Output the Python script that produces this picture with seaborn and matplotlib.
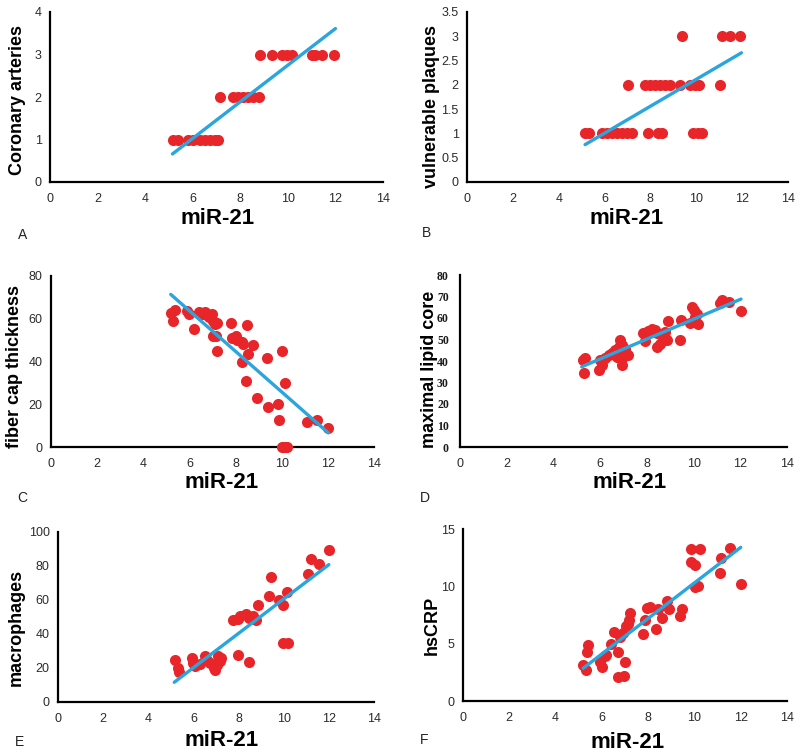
import matplotlib
matplotlib.use('Agg')
import matplotlib.pyplot as plt
import seaborn as sns

# ---- data ----
a_x = [5.19, 5.40, 5.82, 6.03, 6.31, 6.52, 6.73, 6.94, 7.08,
       7.15, 7.71, 7.92, 8.13, 8.34, 8.55, 8.77,
       8.84, 9.33, 9.75, 9.96, 10.17, 11.0, 11.15, 11.43, 11.95]
a_y = [1, 1, 1, 1, 1, 1, 1, 1, 1,
       2, 2, 2, 2, 2, 2, 2,
       3, 3, 3, 3, 3, 3, 3, 3, 3]
a_fit_x = [5.15, 12.0]
a_fit_y = [0.66, 3.61]

b_x = [5.15, 5.30, 5.88, 6.10, 6.31, 6.53, 6.75, 6.97, 7.18, 7.91, 8.35, 8.49,
       9.87, 10.09, 10.23,
       7.04, 7.76, 7.98, 8.20, 8.42, 8.64, 8.85, 9.29, 9.72, 9.94, 10.13, 11.03,
       9.36, 11.1, 11.47, 11.9]
b_y = [1, 1, 1, 1, 1, 1, 1, 1, 1, 1, 1, 1, 1, 1, 1,
       2, 2, 2, 2, 2, 2, 2, 2, 2, 2, 2, 2,
       3, 3, 3, 3]
b_fit_x = [5.15, 11.97]
b_fit_y = [0.77, 2.66]

c_x = [5.19, 5.38, 5.30, 5.88, 6.0, 6.21, 6.43, 6.53, 6.66, 6.75, 6.86, 6.96,
       7.04, 7.11, 7.21, 7.04, 7.15, 7.21, 7.8, 7.86, 8.02, 8.08, 8.27, 8.34,
       8.48, 8.55, 8.77, 8.29, 8.44, 8.92, 9.35, 9.42, 9.86, 9.9, 10.0, 10.14,
       10.0, 10.14, 10.22, 11.11, 11.55, 12.02]
c_y = [62.9, 64, 59, 63.5, 62, 55, 63, 62.4, 63, 61.6, 60.8, 62,
       59, 57.7, 58, 52, 51.8, 45, 58, 51, 52, 50, 49, 48,
       57, 43.7, 47.6, 40, 31, 23, 41.8, 18.7, 20, 12.8, 45, 30,
       0, 0, 0, 11.7, 12.8, 8.9]
c_fit_x = [5.19, 12.02]
c_fit_y = [71.4, 6.6]

d_x = [5.26, 5.36, 5.31, 5.97, 6.0, 6.07, 6.21, 6.36, 6.5, 6.64, 6.79, 6.86,
       6.93, 6.71, 6.93, 7.07, 7.21, 6.97, 7.83, 7.93, 8.07, 8.21, 8.36, 8.43,
       8.43, 8.57, 8.71, 8.79, 8.86, 8.89, 9.4, 9.47, 9.83, 9.93, 10.0, 10.07,
       10.14, 10.21, 11.14, 11.21, 11.5, 12.03]
d_y = [40.4, 41.2, 34.2, 36, 40.4, 38, 41.2, 42.7, 43.5, 45, 46.6, 49.7,
       47.4, 41.9, 38, 45.8, 42.7, 41.9, 53.1, 49.4, 54, 55, 54.3, 52.8,
       46.3, 47.8, 50.9, 53.6, 50, 58.5, 50, 59.3, 57.5, 65.2, 63.7, 60.6,
       62, 57.1, 66.8, 68.3, 67.5, 63.2]
d_fit_x = [5.21, 12.03]
d_fit_y = [37.3, 68.8]

e_x = [5.19, 5.30, 5.37, 5.93, 6.0, 6.08, 6.3, 6.52, 6.59, 6.74, 6.89, 6.96,
       7.04, 7.11, 7.18, 7.23, 7.77, 7.96, 8.07, 8.32, 8.44, 8.66, 8.88, 7.96,
       8.48, 8.78, 9.37, 9.44, 9.81, 9.99, 10.13, 9.96, 10.21, 11.09, 11.19,
       11.58, 12.0]
e_y = [24.9, 20, 17.6, 25.9, 22.9, 21, 22.4, 27.3, 24.9, 22.9, 20, 18.6,
       22, 26.9, 23.9, 25.9, 48, 49, 50.4, 52, 49.4, 50.8, 57, 27.8,
       23.5, 48.4, 62.2, 73.3, 60.2, 57, 64.5, 34.7, 34.7, 75.5, 84.1,
       81.4, 89.2]
e_fit_x = [5.15, 12.0]
e_fit_y = [11.6, 80.8]

f_x = [5.19, 5.34, 5.39, 5.31, 5.92, 5.99, 6.13, 6.2, 6.38, 6.54, 6.71, 6.71,
       6.96, 7.0, 6.78, 6.9, 7.04, 7.11, 7.19, 7.22, 7.79, 7.86, 7.94, 8.08,
       8.34, 8.44, 8.59, 8.8, 8.92, 9.38, 9.45, 9.86, 10.22, 9.86, 10.03,
       10.03, 10.17, 11.14, 11.11, 11.54, 12.0]
f_y = [3.15, 4.3, 4.9, 2.7, 3.4, 3.0, 3.9, 4.0, 5.0, 6.0, 4.3, 2.1,
       2.2, 3.4, 5.6, 5.9, 6.5, 6.7, 7.1, 7.7, 5.8, 7.1, 8.1, 8.2,
       6.3, 8.0, 7.2, 8.7, 8.0, 7.4, 8.0, 13.25, 13.25, 12.1, 11.9,
       9.9, 10.0, 12.5, 11.2, 13.3, 10.2]
f_fit_x = [5.19, 12.0]
f_fit_y = [2.85, 13.4]

x_ticks = [0, 2, 4, 6, 8, 10, 12, 14]
a_ticks = [0, 1, 2, 3, 4]
b_ticks = [0, 0.5, 1, 1.5, 2, 2.5, 3, 3.5]
c_ticks = [0, 20, 40, 60, 80]
d_ticks = [0, 10, 20, 30, 40, 50, 60, 70, 80]
e_ticks = [0, 20, 40, 60, 80, 100]
f_ticks = [0, 5, 10, 15]
y_labels = ['Coronary arteries', 'vulnerable plaques', 'fiber cap thickness',
            'maximal lipid core', 'macrophages', 'hsCRP']
x_label = 'miR-21'
letters = ['A', 'B', 'C', 'D', 'E', 'F']

DOT = '#e8262a'
LINE = '#2aa5dd'
W, H = 800, 755

sns.set_style('white')
plt.rcParams['font.family'] = ['Liberation Sans', 'DejaVu Sans']

fig = plt.figure(figsize=(W / 100, H / 100), dpi=100)


def draw_panel(box, x, y, fit_x, fit_y, yticks, ylabel, xlab_px, ylab_px,
               letter, letter_px, serif_y=False):
    """Draw one scatter panel, box given in pixels (left, right, top, bottom)."""
    left, right, top, bottom = box
    ax = fig.add_axes([left / W, 1 - bottom / H,
                       (right - left) / W, (bottom - top) / H])
    sns.scatterplot(x=x, y=y, ax=ax, color=DOT, s=64, linewidth=0,
                    clip_on=False, zorder=3)
    sns.lineplot(x=fit_x, y=fit_y, ax=ax, color=LINE, linewidth=2.4,
                 sort=False, estimator=None, zorder=4)
    ax.set_xlim(0, 14)
    ax.set_ylim(0, yticks[-1])
    ax.set_xticks(x_ticks)
    ax.set_yticks(yticks)
    ax.set_yticklabels([f'{t:g}' for t in yticks])
    for side in ['top', 'right']:
        ax.spines[side].set_visible(False)
    for side in ['left', 'bottom']:
        ax.spines[side].set_color('black')
        ax.spines[side].set_linewidth(1.6)
    ax.tick_params(axis='x', length=0, pad=8, labelsize=9, labelcolor='#2b2b2b')
    ax.tick_params(axis='y', length=0, pad=6, labelsize=9, labelcolor='#2b2b2b')
    if serif_y:
        ax.tick_params(axis='y', pad=8)
        for lab in ax.get_yticklabels():
            lab.set_family('Liberation Serif')
            lab.set_fontweight('bold')
            lab.set_fontsize(8.5)
            lab.set_color('#1a1a1a')
    ax.set_xlabel(x_label, fontsize=16, fontweight='bold', va='center',
                  color='black')
    ax.set_ylabel(ylabel, fontsize=13, fontweight='bold', va='center',
                  color='black')
    ax.xaxis.set_label_coords((xlab_px[0] - left) / (right - left),
                              (bottom - xlab_px[1]) / (bottom - top))
    ax.yaxis.set_label_coords((ylab_px[0] - left) / (right - left),
                              (bottom - ylab_px[1]) / (bottom - top))
    fig.text(letter_px[0] / W, 1 - letter_px[1] / H, letter, fontsize=10,
             ha='center', va='center', color='#222222')
    return ax


draw_panel((50, 383, 12, 182), a_x, a_y, a_fit_x, a_fit_y, a_ticks, y_labels[0],
           (218, 218), (18, 100), letters[0], (23, 235))
draw_panel((467, 788, 12, 182), b_x, b_y, b_fit_x, b_fit_y, b_ticks, y_labels[1],
           (627, 218), (432, 106), letters[1], (427, 233))
draw_panel((51, 374, 276, 447), c_x, c_y, c_fit_x, c_fit_y, c_ticks, y_labels[2],
           (222, 483), (15, 367), letters[2], (22, 498))
draw_panel((460, 787, 275, 447), d_x, d_y, d_fit_x, d_fit_y, d_ticks, y_labels[3],
           (630, 482), (430, 369), letters[3], (425, 498), serif_y=True)
draw_panel((58, 374, 532, 702), e_x, e_y, e_fit_x, e_fit_y, e_ticks, y_labels[4],
           (222, 740), (16, 627), letters[4], (20, 742))
draw_panel((463, 787, 529, 701), f_x, f_y, f_fit_x, f_fit_y, f_ticks, y_labels[5],
           (628, 742), (432, 625), letters[5], (424, 740))

fig.savefig('out.png', dpi=100)
